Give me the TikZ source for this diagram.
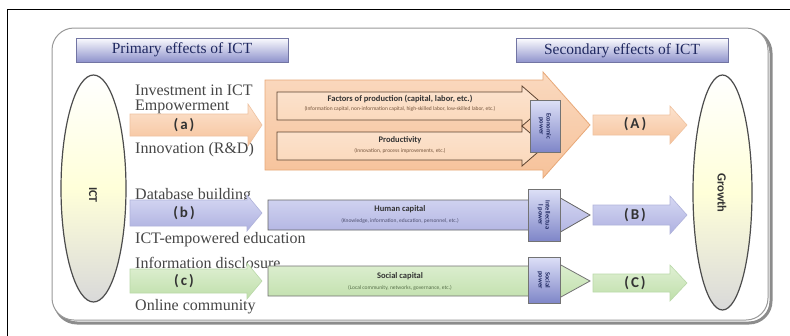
\documentclass[tikz,border=0pt]{standalone}
\usepackage{fontspec}
\setmainfont{Liberation Serif}
\newfontfamily\calib{Carlito}
\usetikzlibrary{shapes.geometric}
\definecolor{orA}{HTML}{F6C29A}
\definecolor{orL}{HTML}{FCE3CF}
\definecolor{orD}{HTML}{E8A878}
\definecolor{orI}{HTML}{FAD8BA}
\definecolor{blA}{HTML}{AEB1E0}
\definecolor{blL}{HTML}{D6D8F3}
\definecolor{blD}{HTML}{8E92CC}
\definecolor{grA}{HTML}{BFDFAA}
\definecolor{grL}{HTML}{E0F0D4}
\definecolor{grD}{HTML}{9CC884}
\definecolor{navy}{HTML}{1F2860}
\definecolor{txt}{HTML}{464646}
\definecolor{pwT}{HTML}{DDE0F7}
\definecolor{pwB}{HTML}{7F86C8}
\newcommand{\barrow}[7]{%
  \path[#7] (#1,#3-#4) -- (#6,#3-#4) -- (#6,#3-#5) -- (#2,#3) -- (#6,#3+#5) -- (#6,#3+#4) -- (#1,#3+#4) -- cycle;}
\tikzset{
  orarrow/.style={top color=orL, bottom color=orA, draw=orD!70, line width=0.6pt},
  blarrow/.style={top color=blL, bottom color=blA, draw=blD!70, line width=0.6pt},
  grarrow/.style={top color=grL, bottom color=grA, draw=grD!70, line width=0.6pt},
  bigor/.style={top color=orL!70!orA, bottom color=orA, draw=orD, line width=0.8pt},
  innor/.style={top color=orL, bottom color=orI, draw=black!60!orD, line width=0.8pt},
  hum/.style={top color=blL, bottom color=blA, draw=black!60, line width=0.8pt},
  soc/.style={top color=grL, bottom color=grA, draw=black!55, line width=0.8pt},
  lt/.style={font=\fontsize{16}{18}\selectfont, text=txt, inner sep=0pt, anchor=west},
  lab/.style={font=\calib\bfseries\fontsize{15}{16}\selectfont, text=black!80, inner sep=0pt},
  bt/.style={font=\calib\bfseries\fontsize{8.5}{9}\selectfont, text=black!80, inner sep=0pt},
  st/.style={font=\calib\fontsize{5.5}{6}\selectfont, text=black!50!orD, inner sep=0pt},
  pw/.style={draw=black!55, line width=0.6pt, top color=pwT, bottom color=pwB, inner sep=0pt},
  pwt/.style={font=\calib\bfseries\fontsize{6.5}{7}\selectfont, text=navy, rotate=-90, align=center, inner sep=0pt},
  hdr/.style={draw=blD!80!black, line width=0.6pt, top color=white!90!blL, bottom color=blD, minimum height=24pt, inner sep=0pt, font=\fontsize{15.5}{17}\selectfont, text=navy},
  ell/.style={ellipse, draw=black!70, line width=1.2pt, top color=white, bottom color=black!15, middle color=yellow!15, inner sep=0pt},
  elt/.style={font=\calib\bfseries, text=black!80, rotate=-90, inner sep=0pt}
}
\begin{document}
\begin{tikzpicture}[x=1pt,y=-1pt]
\useasboundingbox (0,0) rectangle (790,335);
\fill[white] (0,0) rectangle (790,335);
\draw[black, line width=0.8pt] (7,336) -- (7,9) -- (791,9);
% rounded frame with shadow
\draw[line width=3pt, black!45, rounded corners=22pt] (55,31) rectangle (771,323);
\draw[line width=1pt, black!40, fill=white, rounded corners=22pt] (52,28) rectangle (768,320);
% headers
\node[hdr, minimum width=212pt] (h1) at (182,50) {Primary effects of ICT};
\node[hdr, minimum width=212pt] (h2) at (622,50.5) {Secondary effects of ICT};
% ellipses
\node[ell, minimum width=65pt, minimum height=227pt] (ict) at (93.5,188.5) {};
\node[elt, font=\calib\bfseries\fontsize{12}{13}\selectfont] (ictt) at (93,195) {ICT};
\node[ell, minimum width=59pt, minimum height=235pt] (gro) at (722.5,192.5) {};
\node[elt, font=\calib\bfseries\fontsize{12.5}{13}\selectfont] (grot) at (722,193) {Growth};
% left texts
\node[lt] (t1) at (135,90) {Investment in ICT};
\node[lt] (t2) at (135,107) {Empowerment};
\node[lt] (t3) at (135,150) {Innovation (R\&D)};
\node[lt] (t4) at (135,196) {Database building};
\node[lt] (t5) at (135,240) {ICT-empowered education};
\node[lt] (t6) at (135,263) {Information disclosure};
\node[lt] (t7) at (135,307) {Online community};
% small arrows
\barrow{130}{262}{125}{11}{21}{248}{orarrow}
\barrow{130}{262}{213}{13}{18}{247}{blarrow}
\barrow{130}{262}{281}{12}{18}{247}{grarrow}
\barrow{593}{687}{125}{10}{19}{670}{orarrow}
\barrow{593}{687}{215}{10}{19}{670}{blarrow}
\barrow{593}{687}{283}{9}{18}{670}{grarrow}
\node[lab] (la) at (184,125) {(\hspace{2pt}a\hspace{2pt})};
\node[lab] (lb) at (184,213) {(\hspace{2pt}b\hspace{2pt})};
\node[lab] (lc) at (184,281) {(\hspace{2pt}c\hspace{2pt})};
\node[lab] (lA) at (635,124) {(\hspace{2pt}A\hspace{2pt})};
\node[lab] (lB) at (635,215) {(\hspace{2pt}B\hspace{2pt})};
\node[lab] (lC) at (635,283) {(\hspace{2pt}C\hspace{2pt})};
% big arrows
\barrow{265}{590}{125}{45}{53}{543}{bigor}
\barrow{277}{545}{106}{14}{20}{522}{innor}
\barrow{277}{545}{146}{14}{20}{522}{innor}
\barrow{268}{590}{215}{15}{23}{550}{hum}
\barrow{268}{590}{281}{15}{22}{550}{soc}
% inner texts
\node[bt] (f1) at (400,99) {Factors of production (capital, labor, etc.)};
\node[st] (f2) at (400,109) {(Information capital, non-information capital, high-skilled labor, low-skilled labor, etc.)};
\node[bt] (p1) at (400,140) {Productivity};
\node[st] (p2) at (400,151) {(Innovation, process improvements, etc.)};
\node[bt] (m1) at (400,209) {Human capital};
\node[st, text=black!45!blD] (m2) at (400,221) {(Knowledge, information, education, personnel, etc.)};
\node[bt] (s1) at (400,276) {Social capital};
\node[st, text=black!45!grD] (s2) at (400,288) {(Local community, networks, governance, etc.)};
% power boxes
\node[pw, minimum width=30pt, minimum height=52pt] (ep) at (545,126) {};
\node[pwt] (ept) at (ep) {Economic\\power};
\node[pw, minimum width=32pt, minimum height=52pt] (ip) at (544,215) {};
\node[pwt] (ipt) at (ip) {Intellectua\\l power};
\node[pw, minimum width=32pt, minimum height=46pt] (sp) at (544,280) {};
\node[pwt] (spt) at (sp) {Social\\power};
\end{tikzpicture}
\end{document}
